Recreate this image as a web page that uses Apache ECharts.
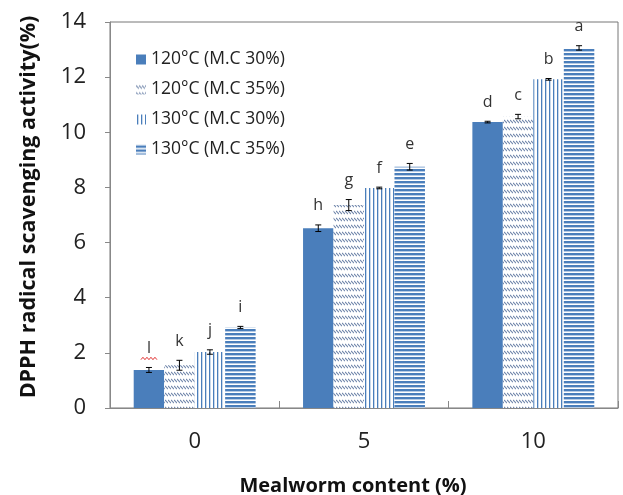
<!DOCTYPE html>
<html><head><meta charset="utf-8">
<script src="https://cdn.jsdelivr.net/npm/echarts@6/dist/echarts.min.js"></script>
<style>html,body{margin:0;padding:0;background:#fff}#c{width:623px;height:495px}</style>
</head><body><div id="c"></div>
<script>
var categories = ['0', '5', '10'];
var seriesNames = ['120°C (M.C 30%)', '120°C (M.C 35%)', '130°C (M.C 30%)', '130°C (M.C 35%)'];
var s1Values = [1.38, 6.52, 10.37];
var s2Values = [1.55, 7.36, 10.57];
var s3Values = [2.03, 7.98, 11.92];
var s4Values = [2.92, 8.75, 13.06];
var s1Err = [0.09, 0.12, 0.03];
var s2Err = [0.18, 0.2, 0.08];
var s3Err = [0.08, 0.03, 0.03];
var s4Err = [0.04, 0.12, 0.08];
var s1Letters = ['l', 'h', 'd'];
var s2Letters = ['k', 'g', 'c'];
var s3Letters = ['j', 'f', 'b'];
var s4Letters = ['i', 'e', 'a'];
var yTicks = [0, 2, 4, 6, 8, 10, 12, 14];

var BLUE = '#4a7ebb';
var FONT = 'Open Sans';

function tile(w, h, draw) {
  var c = document.createElement('canvas');
  c.width = w; c.height = h;
  var g = c.getContext('2d');
  g.fillStyle = '#fff'; g.fillRect(0, 0, w, h);
  draw(g);
  return { image: c, repeat: 'repeat' };
}
var hatch = tile(3, 7, function (g) {
  g.strokeStyle = '#7489ad'; g.lineWidth = 1.1;
  g.beginPath(); g.moveTo(0, 1); g.lineTo(3, 4); g.stroke();
});
var vlines = tile(4, 4, function (g) {
  g.fillStyle = BLUE; g.fillRect(1, 0, 1.3, 4);
});
var hlines = tile(4, 4, function (g) {
  g.fillStyle = BLUE; g.fillRect(0, 1, 4, 2.4);
});

var values = [s1Values, s2Values, s3Values, s4Values];
var errs = [s1Err, s2Err, s3Err, s4Err];
var letters = [s1Letters, s2Letters, s3Letters, s4Letters];
var fills = [BLUE, hatch, vlines, hlines];
var CAT_GAP = 0.28;

var series = [];
values.forEach(function (vals, i) {
  series.push({
    name: seriesNames[i], type: 'bar', data: vals,
    barGap: '0%', barCategoryGap: (CAT_GAP * 100) + '%',
    itemStyle: { color: fills[i] }, silent: true
  });
});
values.forEach(function (vals, i) {
  series.push({
    type: 'custom', silent: true, z: 10,
    data: vals.map(function (v, k) { return [k, v, errs[i][k]]; }),
    renderItem: function (params, api) {
      var k = api.value(0), v = api.value(1), e = api.value(2);
      var letter = letters[i][k];
      var band = api.size([1, 0])[0];
      var bw = band * (1 - CAT_GAP) / 4;
      var base = api.coord([k, v]);
      var x = base[0] + (i - 1.5) * bw;
      var yTop = api.coord([k, v + e])[1];
      var yBot = api.coord([k, v - e])[1];
      var cap = 3;
      var children = [
        { type: 'line', shape: { x1: x, y1: yTop, x2: x, y2: yBot }, style: { stroke: '#000', lineWidth: 1 } },
        { type: 'line', shape: { x1: x - cap, y1: yTop, x2: x + cap, y2: yTop }, style: { stroke: '#000', lineWidth: 1 } },
        { type: 'line', shape: { x1: x - cap, y1: yBot, x2: x + cap, y2: yBot }, style: { stroke: '#000', lineWidth: 1 } },
        { type: 'text', style: { text: letter, x: x, y: yTop - 19, align: 'center', verticalAlign: 'middle',
          font: '16px "' + FONT + '"', fill: '#333' } }
      ];
      if (letter === 'l') {
        var pts = [], yy = yTop - 9;
        for (var p = 0; p <= 8; p++) pts.push([x - 8 + p * 2, yy + (p % 2 ? -1.2 : 1.2)]);
        children.push({ type: 'polyline', shape: { points: pts }, style: { stroke: '#e03030', lineWidth: 1, fill: null } });
      }
      return { type: 'group', children: children };
    }
  });
});

var chart = echarts.init(document.getElementById('c'));
chart.setOption({
  animation: false,
  textStyle: { fontFamily: FONT },
  grid: { left: 110, top: 22, right: 5, bottom: 87, show: true, borderColor: '#777', borderWidth: 1,
    outerBoundsMode: 'none', containLabel: false },
  legend: {
    orient: 'vertical', left: 131, top: 44, itemWidth: 10, itemHeight: 10, itemGap: 9,
    data: seriesNames, icon: 'rect',
    textStyle: { fontSize: 17.5, color: '#222', lineHeight: 21, fontFamily: FONT }
  },
  xAxis: {
    type: 'category', data: categories,
    axisLine: { lineStyle: { color: '#888' } },
    axisTick: { show: true, inside: true, length: 7, lineStyle: { color: '#888' } },
    axisLabel: { fontSize: 22, color: '#222', margin: 23 },
    name: 'Mealworm content (%)', nameLocation: 'middle', nameGap: 68,
    nameTextStyle: { fontSize: 20, fontWeight: 'bold', color: '#111', padding: [0, 22, 0, 0] }
  },
  yAxis: {
    type: 'value', min: yTicks[0], max: yTicks[yTicks.length - 1], interval: yTicks[1] - yTicks[0],
    axisLine: { show: true, lineStyle: { color: '#888' } },
    axisTick: { show: true, length: 5, lineStyle: { color: '#888' } },
    splitLine: { show: false },
    axisLabel: { fontSize: 22, color: '#222', margin: 24 },
    name: 'DPPH radical scavenging activity(%)', nameLocation: 'middle', nameGap: 70,
    nameTextStyle: { fontSize: 21.5, fontWeight: 'bold', color: '#111', padding: [0, 0, 0, 16] }
  },
  series: series
});
</script></body></html>
